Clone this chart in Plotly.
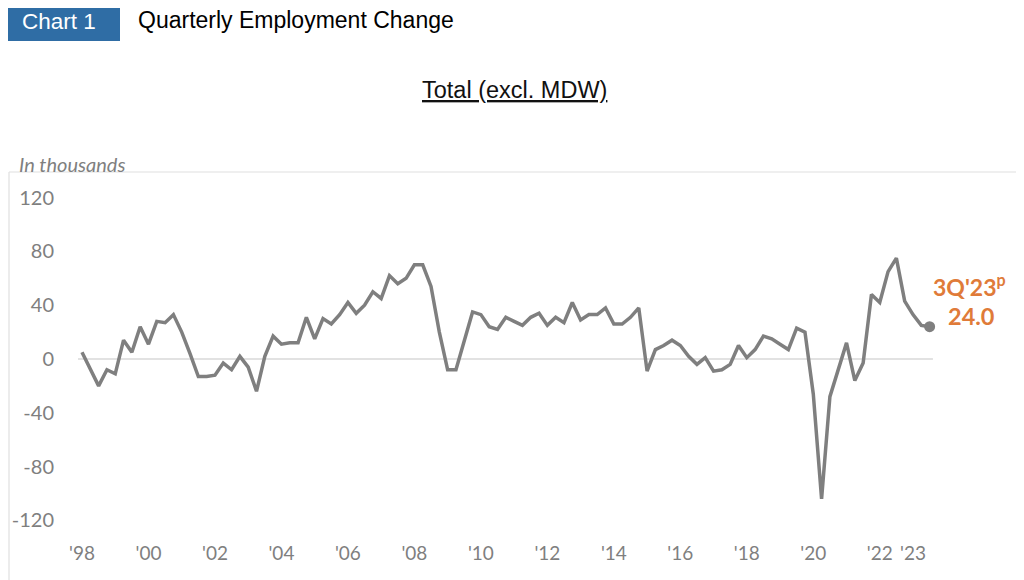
import plotly.graph_objects as go

# Quarterly employment change, 1Q1998 .. 3Q2023 (thousands)
start_year = 1998
values = [
    5, -7, -20, -8, -11, 14, 5, 24, 11, 28,
    27, 33, 20, 4, -13, -13, -12, -3, -8, 2,
    -6, -24, 2, 17, 11, 12, 12, 31, 15, 30,
    26, 33, 42, 34, 40, 50, 45, 62, 56, 60,
    70, 70, 54, 20, -8, -8, 14, 35, 33, 24,
    22, 31, 28, 25, 31, 34, 25, 31, 27, 42,
    29, 33, 33, 38, 26, 26, 31, 38, -9, 7,
    10, 14, 10, 2, -4, 1, -9, -8, -4, 10,
    1, 7, 17, 15, 11, 7, 23, 20, -26, -104,
    -28, -9, 12, -16, -3, 48, 42, 65, 75, 43,
    33, 25, 24.0,
]
x_vals = [start_year + i / 4 for i in range(len(values))]

tick_years = [1998, 2000, 2002, 2004, 2006, 2008, 2010, 2012, 2014,
              2016, 2018, 2020, 2022, 2023]
tick_labels = ["'98", "'00", "'02", "'04", "'06", "'08", "'10", "'12", "'14",
               "'16", "'18", "'20", "'22", "'23"]
y_ticks = [-120, -80, -40, 0, 40, 80, 120]
y_tick_labels = ["-120", "-80", "-40", "0", "40", "80", "120"]

last_label = "3Q'23<sup>p</sup>"
last_value = "24.0"

GRAY = "#7f7f7f"
ORANGE = "#E07B39"

# the page body adds an 8px margin; compensate
OFFX, OFFY = 8, 8
W, H = 1024, 580 - OFFY
L, T = 60 - OFFX, 172 - OFFY
R = W - (1004 - OFFX)
B = H - (540 - OFFY)
PW, PH = W - L - R, H - T - B


def px(x):
    return (x - OFFX - L) / PW


def py(y):
    return (H - B - (y - OFFY)) / PH


fig = go.Figure()
fig.add_trace(go.Scatter(
    x=x_vals, y=values, mode="lines",
    line=dict(color=GRAY, width=3.5),
    hoverinfo="skip", showlegend=False,
))
fig.add_trace(go.Scatter(
    x=[x_vals[-1]], y=[values[-1]], mode="markers",
    marker=dict(color=GRAY, size=11),
    hoverinfo="skip", showlegend=False,
))

shapes = [
    # zero line
    dict(type="line", xref="x", yref="y", x0=1997.88, x1=2023.6, y0=0, y1=0,
         line=dict(color="#d9d9d9", width=1.5), layer="below"),
    # chart border top / left
    dict(type="line", xref="paper", yref="paper", x0=px(9), x1=px(1018),
         y0=py(172), y1=py(172), line=dict(color="#e0e0e0", width=1.2)),
    dict(type="line", xref="paper", yref="paper", x0=px(9), x1=px(9),
         y0=py(172), y1=py(580), line=dict(color="#e0e0e0", width=1.2)),
    # header box
    dict(type="rect", xref="paper", yref="paper", x0=px(7), x1=px(120),
         y0=py(41), y1=py(5), fillcolor="#2F6DA5", line=dict(width=0)),
    dict(type="line", xref="paper", yref="paper", x0=px(120), x1=px(1024),
         y0=py(5), y1=py(5), line=dict(color="#8FB4D8", width=1.5)),
]

annotations = [
    dict(xref="paper", yref="paper", x=px(20), y=py(21), xanchor="left",
         yanchor="middle", text="Chart 1", showarrow=False,
         font=dict(family="Liberation Sans, Arial", size=22.5, color="white")),
    dict(xref="paper", yref="paper", x=px(136), y=py(20), xanchor="left",
         yanchor="middle", text="Quarterly Employment Change", showarrow=False,
         font=dict(family="Liberation Sans, Arial", size=23, color="black")),
    dict(xref="paper", yref="paper", x=px(514), y=py(90), xanchor="center",
         yanchor="middle", text="<u>Total (excl. MDW)</u>", showarrow=False,
         font=dict(family="Liberation Sans, Arial", size=23.5, color="#111111")),
    dict(xref="paper", yref="paper", x=px(17), y=py(164), xanchor="left",
         yanchor="middle", text="<i>In thousands</i>", showarrow=False,
         font=dict(family="Lato, Open Sans", size=20, color=GRAY)),
    dict(xref="paper", yref="paper", x=px(969), y=py(285), xanchor="center",
         yanchor="middle", text="<b>" + last_label + "</b>", showarrow=False,
         font=dict(family="Lato, Open Sans", size=23, color=ORANGE)),
    dict(xref="paper", yref="paper", x=px(971), y=py(316), xanchor="center",
         yanchor="middle", text="<b>" + last_value + "</b>", showarrow=False,
         font=dict(family="Lato, Open Sans", size=23.5, color=ORANGE)),
]

x_left = start_year - (82 - 60) / 33.24
x_right = start_year + (1004 - 82) / 33.24
y_top = (359 - 172) / 1.345
y_bot = (359 - 540) / 1.345

fig.update_layout(
    width=W, height=H,
    margin=dict(l=L, r=R, t=T, b=B, pad=0, autoexpand=False),
    paper_bgcolor="white", plot_bgcolor="white",
    shapes=shapes, annotations=annotations,
    xaxis=dict(range=[x_left, x_right], tickmode="array", tickvals=tick_years,
               ticktext=tick_labels, showgrid=False, zeroline=False,
               showline=False, ticks="", automargin=False,
               tickfont=dict(family="Lato, Open Sans", size=19, color=GRAY)),
    yaxis=dict(range=[y_bot, y_top], tickmode="array", tickvals=y_ticks,
               ticktext=y_tick_labels, ticklabelstandoff=5, automargin=False,
               showgrid=False, zeroline=False, showline=False, ticks="",
               tickfont=dict(family="Lato, Open Sans", size=20, color=GRAY)),
)

fig.write_html("out.html")
